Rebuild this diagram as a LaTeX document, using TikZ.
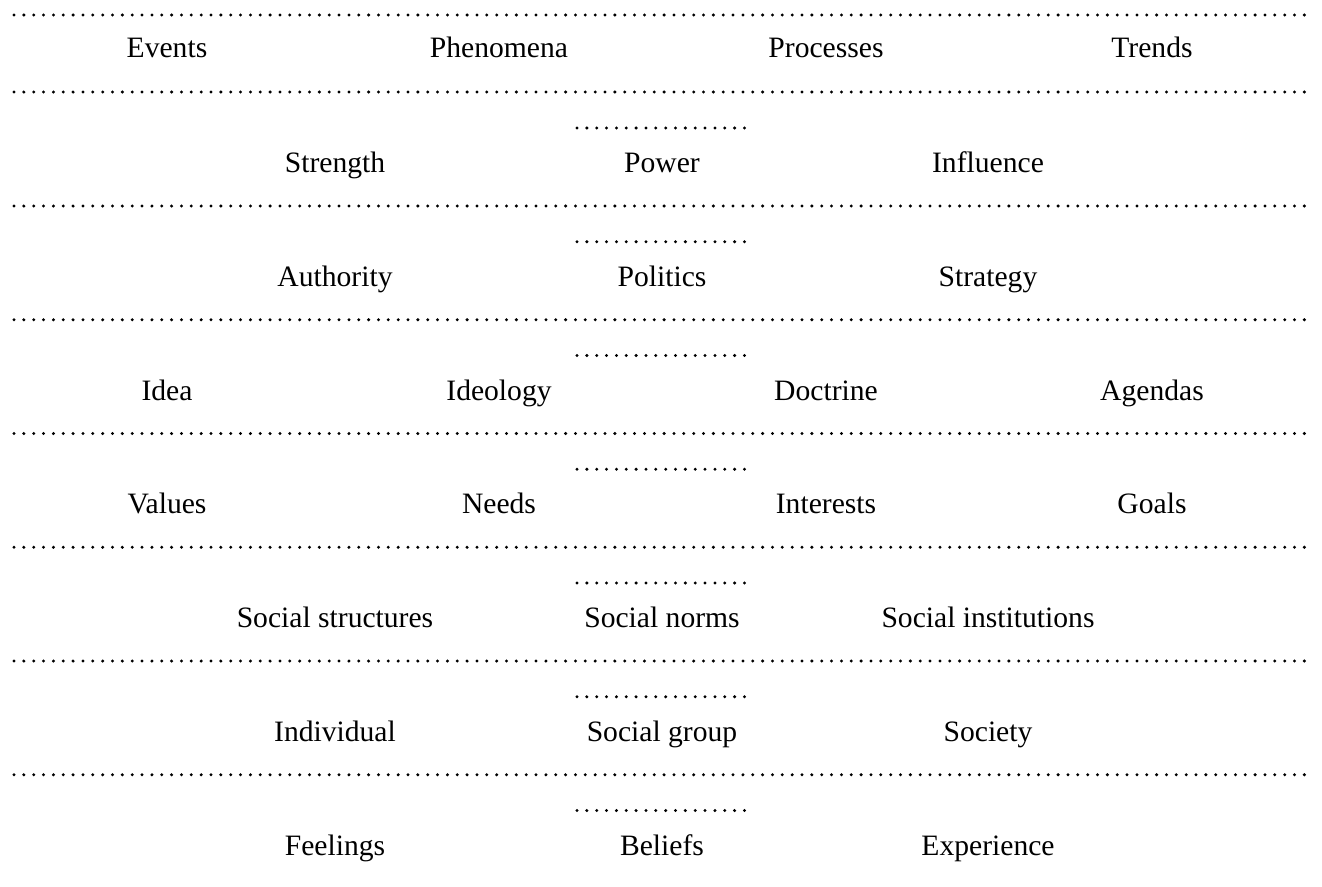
\documentclass[tikz,border=0pt]{standalone}
\usepackage{fontspec}
\setmainfont{Liberation Serif}
\usepackage{tikz}
\usetikzlibrary{positioning}
\tikzset{term node/.style={anchor=base,inner sep=0pt,font=\fontsize{29.6}{34}\selectfont},}
\tikzset{long dots/.style={line width=3.3pt,line cap=round,dash pattern=on 0pt off 9.85pt},}
\tikzset{short dots/.style={line width=3.3pt,line cap=round,dash pattern=on 0pt off 9.85pt},}

\begin{document}
\begin{tikzpicture}[x=1pt,y=-1pt]
       \useasboundingbox (0,0) rectangle (1322,886);

       % separators
       \foreach \y in {15,92,206,319.75,433.5,547.25,661,774.75}
         \draw[long dots] (14,\y) -- (1310,\y);
       \foreach \y in {128,241.75,355.5,469.25,583,696.75,810.5}
         \draw[short dots] (577,\y) -- (748,\y);

       \node[term node] (events) at (167,57.5) {Events};
       \node[term node] (phenomena) at (499,57.5) {Phenomena};
       \node[term node] (processes) at (826,57.5) {Processes};
       \node[term node] (trends) at (1152,57.5) {Trends};

       \node[term node] (strength) at (335,172.5) {Strength};
       \node[term node] (power) at (662,172.5) {Power};
       \node[term node] (influence) at (988,172.5) {Influence};

       \node[term node] (authority) at (335,286.25) {Authority};
       \node[term node] (politics) at (662,286.25) {Politics};
       \node[term node] (strategy) at (988,286.25) {Strategy};

       \node[term node] (idea) at (167,400) {Idea};
       \node[term node] (ideology) at (499,400) {Ideology};
       \node[term node] (doctrine) at (826,400) {Doctrine};
       \node[term node] (agendas) at (1152,400) {Agendas};

       \node[term node] (values) at (167,513.75) {Values};
       \node[term node] (needs) at (499,513.75) {Needs};
       \node[term node] (interests) at (826,513.75) {Interests};
       \node[term node] (goals) at (1152,513.75) {Goals};

       \node[term node] (structures) at (335,627.5) {Social structures};
       \node[term node] (norms) at (662,627.5) {Social norms};
       \node[term node] (institutions) at (988,627.5) {Social institutions};

       \node[term node] (individual) at (335,741.25) {Individual};
       \node[term node] (group) at (662,741.25) {Social group};
       \node[term node] (society) at (988,741.25) {Society};

       \node[term node] (feelings) at (335,855) {Feelings};
       \node[term node] (beliefs) at (662,855) {Beliefs};
       \node[term node] (experience) at (988,855) {Experience};
\end{tikzpicture}
\end{document}
